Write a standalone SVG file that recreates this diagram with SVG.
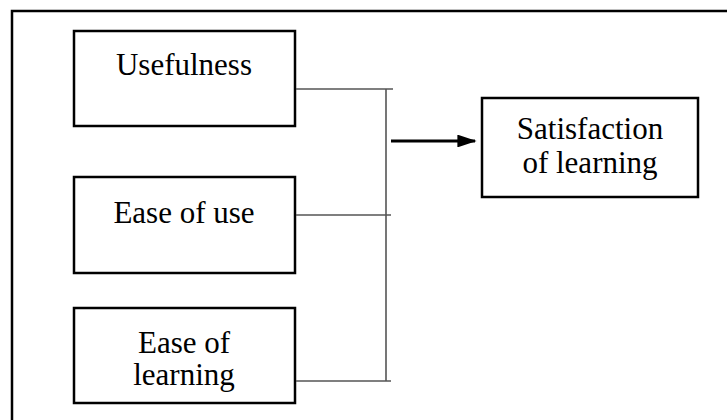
<svg xmlns="http://www.w3.org/2000/svg" width="727" height="420" viewBox="0 0 727 420">
<style>
.box{fill:#fff;stroke:#000;stroke-width:2.5}
.t{font-family:"Liberation Serif","Times New Roman",serif;font-size:31px;fill:#000;text-anchor:middle}
.c{stroke:#555;stroke-width:1.6;fill:none}
.frame{stroke:#000;stroke-width:2.5;fill:none}
</style>
<defs>
<marker id="ah" markerWidth="6" markerHeight="4" refX="5.5" refY="2" orient="auto" markerUnits="strokeWidth">
<path d="M0,0 L6,2 L0,4 Z" fill="#000"/>
</marker>
</defs>
<rect width="727" height="420" fill="#fff"/>
<path class="frame" d="M12,420 V11 H727"/>
<g id="usefulness">
<rect class="box" x="74" y="31" width="221" height="95"/>
<text class="t" x="184" y="75">Usefulness</text>
</g>
<g id="ease-of-use">
<rect class="box" x="74" y="177" width="221" height="96"/>
<text class="t" x="184" y="223">Ease of use</text>
</g>
<g id="ease-of-learning">
<rect class="box" x="74" y="308" width="221" height="95"/>
<text class="t" x="184" y="353">Ease of</text>
<text class="t" x="184" y="385">learning</text>
</g>
<g id="satisfaction">
<rect class="box" x="482" y="98" width="216" height="99"/>
<text class="t" x="590" y="139">Satisfaction</text>
<text class="t" x="590" y="173">of learning</text>
</g>
<g id="connectors">
<path class="c" d="M296,89 H393 M296,215 H391 M296,381 H391 M386,89 V381"/>
<line x1="391" y1="141" x2="475" y2="141" stroke="#000" stroke-width="3.2" marker-end="url(#ah)"/>
</g>
</svg>
